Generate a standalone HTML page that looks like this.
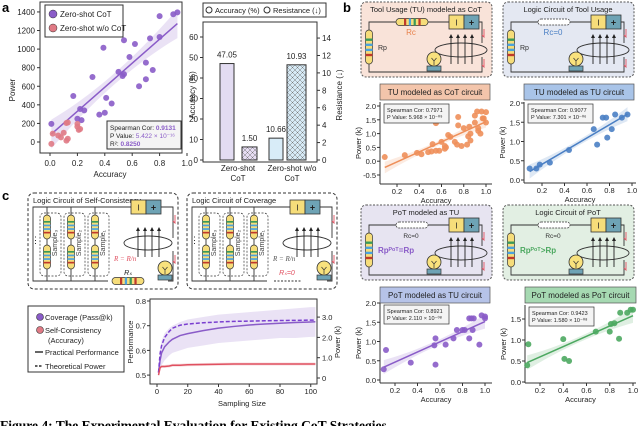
<!DOCTYPE html>
<html><head><meta charset="utf-8">
<style>
html,body{margin:0;padding:0;background:#fff;}
svg{display:block;font-family:"Liberation Sans",sans-serif;}
</style></head>
<body>
<svg id="fig" width="640" height="426" viewBox="0 0 640 426" xmlns="http://www.w3.org/2000/svg"></svg>
<script>
// ---------- DATA ----------
const aCotAcc = [0.01,0.17,0.20,0.22,0.23,0.25,0.31,0.36,0.39,0.40,0.41,0.45,0.50,0.53,0.54,0.54,0.58,0.62,0.65,0.70,0.70,0.73,0.75,0.80,0.80,0.90,0.93];
const aCotPow = [195,495,250,355,235,340,700,295,1015,315,475,415,755,710,1095,730,915,1055,600,855,675,1115,775,1355,1130,1375,1395];
const aNoAcc = [0.01,0.02,0.06,0.08,0.10,0.12,0.13,0.12,0.13,0.20,0.20,0.21,0.22];
const aNoPow = [-20,90,70,50,100,15,35,205,210,195,165,130,140];
const aXTicks = [0,0.2,0.4,0.6,0.8,1.0];
const aYTicks = [0,200,400,600,800,1000,1200,1400];

const barCats = ["Zero-shot CoT","Zero-shot w/o CoT"];
const barAcc = [47.05,10.66];
const barRes = [1.50,10.93];
const barAccTicks = [0,10,20,30,40,50,60];
const barResTicks = [0,2,4,6,8,10,12,14];

const b1Acc = [0.09,0.27,0.38,0.42,0.48,0.51,0.52,0.55,0.55,0.58,0.60,0.63,0.63,0.64,0.66,0.68,0.72,0.74,0.75,0.75,0.78,0.80,0.83,0.84,0.85,0.86,0.86,0.90,0.90,0.92,0.93,0.93,0.95,0.97,0.98,1.00,1.00,0.96];
const b1Pow = [0.15,0.22,0.30,0.25,0.33,0.35,0.62,0.38,1.38,0.38,0.70,0.55,0.45,0.50,0.95,0.88,0.70,0.60,1.60,1.30,0.55,1.20,0.60,0.90,1.25,0.75,1.00,1.40,1.65,1.80,1.10,1.20,1.00,1.55,1.55,1.78,1.40,1.80];
const b2Acc = [0.09,0.15,0.18,0.27,0.44,0.66,0.69,0.74,0.77,0.78,0.82,0.85,0.91,0.96];
const b2Pow = [0.30,0.30,0.40,0.45,0.78,1.32,0.92,1.62,1.62,1.10,1.32,1.70,1.62,1.70];
const b3Acc = [0.10,0.12,0.34,0.55,0.56,0.56,0.65,0.72,0.75,0.80,0.82,0.86,0.86,0.88,0.90,0.89,0.95,0.97,1.00,1.00];
const b3Pow = [0.28,0.78,0.45,0.90,1.08,0.40,0.92,1.08,1.30,1.30,1.30,1.60,1.08,1.60,1.60,1.30,0.92,1.68,1.65,1.60];
const b4Acc = [0.09,0.10,0.40,0.41,0.45,0.68,0.80,0.81,0.84,0.88,0.89,0.95,0.98,1.00];
const b4Pow = [0.40,0.90,1.02,0.55,0.50,1.20,1.20,1.38,1.40,1.03,1.65,1.65,1.72,1.72];

const cSizes = [1,2,3,5,8,10,15,20,30,40,50,60,70,80,90,100,103];
const cCovPerf = [0.51,0.56,0.59,0.615,0.635,0.645,0.66,0.668,0.68,0.69,0.697,0.703,0.707,0.71,0.713,0.715,0.716];
const cCovLo = [0.505,0.52,0.54,0.56,0.58,0.59,0.60,0.61,0.62,0.63,0.635,0.64,0.645,0.65,0.65,0.655,0.655];
const cCovHi = [0.52,0.60,0.64,0.67,0.69,0.70,0.715,0.725,0.735,0.745,0.75,0.755,0.76,0.765,0.77,0.775,0.775];
const cCovPower = [0.27,1.2,1.6,2.0,2.3,2.45,2.6,2.66,2.72,2.76,2.79,2.80,2.82,2.83,2.84,2.85,2.85];
const cScPerf = [0.50,0.53,0.535,0.535,0.537,0.54,0.54,0.542,0.543,0.544,0.545,0.545,0.545,0.545,0.545,0.545,0.545];
const cXTicks = [0,20,40,60,80,100];
const cYTicks = [0.5,0.6,0.7,0.8];
const cRTicks = [0,1.0,2.0,3.0];

// ---------- HELPERS ----------
const NS = "http://www.w3.org/2000/svg";
const svg = document.getElementById("fig");
function mk(tag, attrs, name, parent){
  const el = document.createElementNS(NS, tag);
  for (const k in attrs) el.setAttribute(k, attrs[k]);
  
  
  (parent || svg).appendChild(el);
  return el;
}
function txt(x,y,s,size,name,extra){
  const a = Object.assign({x:x,y:y,'font-size':size,fill:'#222'}, extra||{});
  const t = mk('text', a, name);
  t.textContent = s;
  return t;
}
function fit(xs, ys){
  const n=xs.length; let mx=0,my=0; for(let i=0;i<n;i++){mx+=xs[i];my+=ys[i];} mx/=n; my/=n;
  let sxy=0,sxx=0; for(let i=0;i<n;i++){sxy+=(xs[i]-mx)*(ys[i]-my);sxx+=(xs[i]-mx)**2;}
  const b=sxy/sxx; return {b:b,a:my-b*mx};
}
function regBand(xs, ys, sx, sy, color, width, name){
  const f = fit(xs, ys);
  const x0 = Math.min(...xs), x1 = Math.max(...xs);
  const span = (Math.max(...ys)-Math.min(...ys));
  const w0 = span*0.13, wm = span*0.05;
  const mid=(x0+x1)/2;
  let up=[], dn=[];
  for(let k=0;k<=20;k++){
    const x = x0+(x1-x0)*k/20;
    const w = wm + (w0-wm)*Math.pow(Math.abs(x-mid)/((x1-x0)/2),2);
    const y = f.a+f.b*x;
    up.push(sx(x)+','+sy(y+w)); dn.unshift(sx(x)+','+sy(y-w));
  }
  mk('polygon',{points:up.concat(dn).join(' '),fill:color,'fill-opacity':0.18},name+'-confidence-band');
  mk('line',{x1:sx(x0),y1:sy(f.a+f.b*x0),x2:sx(x1),y2:sy(f.a+f.b*x1),stroke:color,'stroke-width':width},name+'-regression-line');
}
function points(xs, ys, sx, sy, color, r, name){
  for(let i=0;i<xs.length;i++){
    mk('circle',{cx:sx(xs[i]),cy:sy(ys[i]),r:r,fill:color,'fill-opacity':0.9},name+'-point');
  }
}

// ---------- PANEL A SCATTER ----------
txt(2,12,'a',13,'panel-a-label',{'font-weight':'bold',fill:'#000'});
{
  const sx=v=>50+v*137, sy=v=>142-v*0.0929;
  mk('rect',{x:40,y:2,width:142,height:151,fill:'none',stroke:'#333','stroke-width':1},'scatter-a-frame');
  aXTicks.forEach(t=>{ mk('line',{x1:sx(t),y1:153,x2:sx(t),y2:156,stroke:'#333'},'x-tick');
    txt(sx(t),166,t.toFixed(1),8,'x-tick-label',{'text-anchor':'middle'}); });
  aYTicks.forEach(t=>{ mk('line',{x1:37,y1:sy(t),x2:40,y2:sy(t),stroke:'#333'},'y-tick');
    txt(35,sy(t)+3,String(t),8,'y-tick-label',{'text-anchor':'end'}); });
  txt(110,177,'Accuracy',8,'x-axis-title',{'text-anchor':'middle'});
  txt(0,0,'Power',8,'y-axis-title',{'text-anchor':'middle',transform:'translate(15,90) rotate(-90)'});
  regBand(aCotAcc,aCotPow,sx,sy,'#8a5cc8',1.5,'cot');
  points(aCotAcc,aCotPow,sx,sy,'#8a5cc8',3,'cot');
  points(aNoAcc,aNoPow,sx,sy,'#e07a85',3,'no-cot');
  mk('rect',{x:45,y:5,width:78,height:32,fill:'#fff',stroke:'#333'},'legend-box');
  mk('circle',{cx:53,cy:14,r:4,fill:'#8a5cc8',stroke:'#333','stroke-width':0.5},'legend-marker-cot');
  txt(60,17,'Zero-shot CoT',8,'legend-entry-cot');
  mk('circle',{cx:53,cy:28,r:4,fill:'#e07a85',stroke:'#333','stroke-width':0.5},'legend-marker-no-cot');
  txt(60,31,'Zero-shot w/o CoT',8,'legend-entry-no-cot');
  mk('rect',{x:107,y:121,width:74,height:28,fill:'#f4f4f4',stroke:'#333'},'stats-box');
  const s1=txt(110,130,'Spearman Cor: ',6.5,'stats-spearman'); 
  const t1=document.createElementNS(NS,'tspan'); t1.setAttribute('fill','#8a5cc8'); t1.setAttribute('font-weight','bold'); t1.textContent='0.9131'; s1.appendChild(t1);
  const s2=txt(110,138,'P Value: ',6.5,'stats-pvalue');
  const t2=document.createElementNS(NS,'tspan'); t2.setAttribute('fill','#8a5cc8'); t2.textContent='5.422 × 10⁻¹⁶'; s2.appendChild(t2);
  const s3=txt(110,146,'R²: ',6.5,'stats-r2');
  const t3=document.createElementNS(NS,'tspan'); t3.setAttribute('fill','#8a5cc8'); t3.setAttribute('font-weight','bold'); t3.textContent='0.8250'; s3.appendChild(t3);
}

// ---------- PANEL A BARS ----------
{
  const defs = mk('defs',{},'pattern-defs');
  const p1 = mk('pattern',{id:'hatchP',width:5,height:5,patternUnits:'userSpaceOnUse'},'hatch-purple',defs);
  mk('rect',{width:5,height:5,fill:'#e6dcf3'},'hatch-bg',p1);
  mk('path',{d:'M0,0 L5,5 M5,0 L0,5',stroke:'#777','stroke-width':0.5},'hatch-lines',p1);
  const p2 = mk('pattern',{id:'hatchB',width:5,height:5,patternUnits:'userSpaceOnUse'},'hatch-blue',defs);
  mk('rect',{width:5,height:5,fill:'#d6eaf6'},'hatch-bg',p2);
  mk('path',{d:'M0,0 L5,5 M5,0 L0,5',stroke:'#777','stroke-width':0.5},'hatch-lines',p2);
  const sl=v=>160-v*2.05, sr=v=>160-v*8.71;
  mk('rect',{x:203,y:22,width:114,height:140,fill:'none',stroke:'#333'},'bar-frame');
  barAccTicks.forEach(t=>{ mk('line',{x1:200,y1:sl(t),x2:203,y2:sl(t),stroke:'#333'},'left-tick');
    txt(198,sl(t)+3,String(t),8,'left-tick-label',{'text-anchor':'end'}); });
  barResTicks.forEach(t=>{ mk('line',{x1:317,y1:sr(t),x2:320,y2:sr(t),stroke:'#333'},'right-tick');
    txt(322,sr(t)+3,String(t),8,'right-tick-label'); });
  txt(0,0,'Accuracy (%)',8,'left-axis-title',{'text-anchor':'middle',transform:'translate(195,95) rotate(-90)'});
  txt(0,0,'Resistance (↓)',8,'right-axis-title',{'text-anchor':'middle',transform:'translate(342,95) rotate(-90)'});
  const accX=[220,269], resX=[242,287], resW=[15,19], accCol=['#e3dcf2','#d8ecf8'], hatch=['url(#hatchP)','url(#hatchB)'];
  for(let i=0;i<barCats.length;i++){
    mk('rect',{x:accX[i],y:sl(barAcc[i]),width:14,height:160-sl(barAcc[i]),fill:accCol[i],stroke:'#333'},'bar-accuracy');
    txt(accX[i]+7,sl(barAcc[i])-6,barAcc[i].toFixed(2),8,'bar-accuracy-value',{'text-anchor':'middle'});
    mk('rect',{x:resX[i],y:sr(barRes[i]),width:resW[i],height:160-sr(barRes[i]),fill:hatch[i],stroke:'#333'},'bar-resistance');
    txt(resX[i]+resW[i]/2,sr(barRes[i])-6,barRes[i].toFixed(2),8,'bar-resistance-value',{'text-anchor':'middle'});
  }
  txt(238,171,'Zero-shot',8,'category-label',{'text-anchor':'middle'});
  txt(238,181,'CoT',8,'category-label',{'text-anchor':'middle'});
  txt(292,171,'Zero-shot w/o',8,'category-label',{'text-anchor':'middle'});
  txt(292,181,'CoT',8,'category-label',{'text-anchor':'middle'});
  mk('rect',{x:203,y:3,width:123,height:14,fill:'#fff',stroke:'#333'},'bar-legend-box');
  mk('circle',{cx:209,cy:10,r:3,fill:'#fff',stroke:'#333'},'legend-marker-accuracy');
  txt(215,13,'Accuracy (%)',7.5,'legend-entry-accuracy');
  mk('circle',{cx:267,cy:10,r:3,fill:'#fff',stroke:'#333'},'legend-marker-resistance');
  txt(273,13,'Resistance (↓)',7.5,'legend-entry-resistance');
}

// ---------- CIRCUIT COMPONENTS ----------
function resistorH(x,y,w){
  mk('rect',{x:x,y:y-3.5,width:w,height:7,rx:3.5,fill:'#f6dd7a',stroke:'#333','stroke-width':0.7},'resistor');
  const c=['#c0392b','#4aa3df','#3a9a5a','#c0392b'];
  for(let i=0;i<4;i++) mk('rect',{x:x+w*0.25+i*w*0.15,y:y-3.5,width:w*0.07,height:7,fill:c[i]},'resistor-band');
}
function resistorV(x,y,h){
  mk('rect',{x:x-3.5,y:y,width:7,height:h,rx:3.5,fill:'#f6dd7a',stroke:'#333','stroke-width':0.7},'resistor');
  const c=['#3a9a5a','#4aa3df','#4aa3df','#c0392b'];
  for(let i=0;i<4;i++) mk('rect',{x:x-3.5,y:y+h*0.25+i*h*0.15,width:7,height:h*0.07,fill:c[i]},'resistor-band');
}
function wireZero(x,y,w){
  mk('rect',{x:x,y:y-3,width:w,height:6,rx:3,fill:'#fff',stroke:'#333','stroke-width':0.7,'stroke-dasharray':'2,1'},'zero-resistor');
}
function battery(x,y){
  mk('rect',{x:x,y:y,width:15,height:14,fill:'#f6dd7a',stroke:'#333','stroke-width':0.8},'battery-neg');
  mk('rect',{x:x+15,y:y,width:15,height:14,fill:'#6ea3b5',stroke:'#333','stroke-width':0.8},'battery-pos');
  txt(x+7.5,y+10.5,'I',8,'battery-minus',{'text-anchor':'middle'});
  txt(x+22.5,y+10.5,'+',9,'battery-plus',{'text-anchor':'middle','font-weight':'bold'});
}
function bulb(x,y){
  mk('circle',{cx:x,cy:y,r:7,fill:'#f9e27d',stroke:'#333','stroke-width':0.8},'bulb');
  mk('path',{d:`M${x-2.5},${y-1} L${x},${y+2} L${x+2.5},${y-1} M${x},${y+2} L${x},${y+6}`,stroke:'#333',fill:'none','stroke-width':0.7},'bulb-filament');
  mk('rect',{x:x-7,y:y+7,width:14,height:5,fill:'#6ea3b5',stroke:'#333','stroke-width':0.7},'bulb-base');
}
function coil(cx,cy,rx){
  mk('ellipse',{cx:cx,cy:cy,rx:rx,ry:7,fill:'none',stroke:'#333','stroke-width':0.9},'coil');
  for(let i=0;i<4;i++){
    const x=cx-10+i*7;
    mk('line',{x1:x,y1:cy+14,x2:x,y2:cy-14,stroke:'#222','stroke-width':0.9},'field-arrow');
    mk('path',{d:`M${x-2},${cy-12} L${x},${cy-16} L${x+2},${cy-12} Z`,fill:'#222'},'field-arrow-head');
  }
}
function checkMark(x,y){
  mk('path',{d:`M${x},${y} L${x},${y+8} L${x-2},${y+6}`,stroke:'#e05060',fill:'none','stroke-width':0.9},'current-mark');
}
function circuitB(ox,oy,bg,title,zero,rcLabel,rcCol,rpLabel,rpCol,name){
  mk('rect',{x:ox,y:oy,width:131,height:75,rx:5,fill:bg,stroke:'#555','stroke-dasharray':'2,1.5'},name+'-box');
  txt(ox+65,oy+10,title,7.5,name+'-title',{'text-anchor':'middle'});
  mk('path',{d:`M${ox+8},${oy+28} L${ox+8},${oy+20} L${ox+121},${oy+20} L${ox+121},${oy+41} M${ox+121},${oy+55} L${ox+121},${oy+70} L${ox+8},${oy+70} L${ox+8},${oy+62}`,fill:'none',stroke:'#333','stroke-width':0.9},name+'-wire');
  if(zero) wireZero(ox+35,oy+20,32); else resistorH(ox+35,oy+20,32);
  resistorV(ox+8,oy+28,34);
  battery(ox+88,oy+13);
  coil(ox+100,oy+48,26);
  bulb(ox+73,oy+57);
  checkMark(ox+123,oy+27); checkMark(ox+123,oy+57);
  txt(ox+50,oy+33,rcLabel,rcCol==='#333'?6.5:8,name+'-rc-label',{'text-anchor':'middle',fill:rcCol});
  txt(ox+17,oy+48,rpLabel,rpCol==='#333'?7:8,name+'-rp-label',{fill:rpCol,'font-weight':rpCol==='#333'?'normal':'bold'});
}
txt(343,12,'b',13,'panel-b-label',{'font-weight':'bold',fill:'#000'});
circuitB(361,2,'#f9e3d9','Tool Usage (TU) modeled as CoT',false,'Rc','#e8804a','Rp','#333','circuit-tu-cot');
circuitB(503,2,'#e4e8f2','Logic Circuit of Tool Usage',true,'Rc=0','#4a7fc4','Rp','#333','circuit-tu');
circuitB(361,205,'#e7e4f1','PoT modeled as TU',true,'Rc=0','#333','Rp\u1D3E\u1D52\u1D40=Rp','#8a5cc8','circuit-pot-tu');
circuitB(503,205,'#e2efe3','Logic Circuit of PoT',true,'Rc=0','#333','Rp\u1D3E\u1D52\u1D40>Rp','#4ca860','circuit-pot');

// ---------- PANEL B SCATTERS ----------
function bPlot(o){
  mk('rect',{x:o.hx,y:o.hy,width:o.hw,height:16,fill:o.hcol,stroke:'#555','stroke-width':0.7},o.name+'-header');
  txt(o.hx+o.hw/2,o.hy+11,o.title,8,o.name+'-title',{'text-anchor':'middle'});
  mk('line',{x1:o.ax,y1:o.top,x2:o.ax,y2:o.by,stroke:'#333'},o.name+'-y-axis');
  mk('line',{x1:o.ax,y1:o.by,x2:o.right,y2:o.by,stroke:'#333'},o.name+'-x-axis');
  o.yt.forEach(t=>{ mk('line',{x1:o.ax-3,y1:o.sy(t),x2:o.ax,y2:o.sy(t),stroke:'#333'},'y-tick');
    txt(o.ax-4,o.sy(t)+3,t.toFixed(1),7.5,'y-tick-label',{'text-anchor':'end'}); });
  [0.2,0.4,0.6,0.8,1.0].forEach(t=>{ mk('line',{x1:o.sx(t),y1:o.by,x2:o.sx(t),y2:o.by+3,stroke:'#333'},'x-tick');
    txt(o.sx(t),o.by+10,t.toFixed(1),7.5,'x-tick-label',{'text-anchor':'middle'}); });
  txt((o.ax+o.right)/2,o.by+19,'Accuracy',7.5,o.name+'-x-title',{'text-anchor':'middle'});
  txt(0,0,'Power (k)',7.5,o.name+'-y-title',{'text-anchor':'middle',transform:`translate(${o.ax-19},${(o.top+o.by)/2}) rotate(-90)`});
  regBand(o.xs,o.ys,o.sx,o.sy,o.col,1.5,o.name);
  points(o.xs,o.ys,o.sx,o.sy,o.col,3,o.name);
  mk('rect',{x:o.ax+4,y:o.top+2,width:65,height:19,fill:'#f4f4f4',stroke:'#333','stroke-width':0.7},o.name+'-stats-box');
  txt(o.ax+7,o.top+10,'Spearman Cor:  '+o.cor,5.5,o.name+'-stats-cor');
  txt(o.ax+7,o.top+17,'P Value:  '+o.p,5.5,o.name+'-stats-p');
}
bPlot({name:'tu-cot',hx:380,hy:84,hw:110,hcol:'#f3c5ab',title:'TU modeled as CoT circuit',ax:380,top:102,by:184,right:492,
  sx:v=>374.75+111.25*v,sy:v=>161.2-27.6*v,yt:[-0.5,0,0.5,1.0,1.5,2.0],xs:b1Acc,ys:b1Pow,col:'#ee8f5a',cor:'0.7971',p:'5.968 × 10⁻⁰⁹'});
bPlot({name:'tu-tu',hx:524,hy:84,hw:110,hcol:'#a9c4e8',title:'TU modeled as TU circuit',ax:524,top:102,by:183,right:636,
  sx:v=>519.5+112.5*v,sy:v=>180-38.5*v,yt:[0,0.5,1.0,1.5,2.0],xs:b2Acc,ys:b2Pow,col:'#4a7fc4',cor:'0.9077',p:'7.301 × 10⁻⁰⁶'});
bPlot({name:'pot-tu',hx:380,hy:287,hw:110,hcol:'#b6c3e8',title:'PoT modeled as TU circuit',ax:380,top:303,by:383,right:492,
  sx:v=>372.5+112.5*v,sy:v=>380-38.5*v,yt:[0,0.5,1.0,1.5,2.0],xs:b3Acc,ys:b3Pow,col:'#8a5cc8',cor:'0.8921',p:'2.110 × 10⁻⁰⁸'});
bPlot({name:'pot-pot',hx:525,hy:287,hw:111,hcol:'#a6d9b2',title:'PoT modeled as PoT circuit',ax:525,top:305,by:383,right:636,
  sx:v=>516.75+116.25*v,sy:v=>382-42*v,yt:[0,0.5,1.0,1.5],xs:b4Acc,ys:b4Pow,col:'#4ca860',cor:'0.9423',p:'1.580 × 10⁻⁰⁸'});

// ---------- PANEL C CIRCUITS ----------
txt(2,200,'c',13,'panel-c-label',{'font-weight':'bold',fill:'#000'});
function circuitC(ox,title,rsZero,rLabel,name){
  const oy=193;
  mk('rect',{x:ox,y:oy,width:150,height:96,rx:6,fill:'#fff',stroke:'#333','stroke-dasharray':'3,2'},name+'-box');
  txt(ox+5,oy+10,title,7.5,name+'-title');
  mk('path',{d:`M${ox+103},${oy+14} L${ox+5},${oy+14} L${ox+5},${oy+88} L${ox+80},${oy+88} M${ox+133},${oy+14} L${ox+145},${oy+14} L${ox+145},${oy+45} M${ox+145},${oy+58} L${ox+145},${oy+88} L${ox+140},${oy+88}`,fill:'none',stroke:'#333','stroke-width':0.9},name+'-wire');
  const gx=[ox+12,ox+36,ox+60];
  const labs=['Sample₃','Sample₂','Sample₁'];
  for(let i=0;i<3;i++){
    mk('rect',{x:gx[i],y:oy+20,width:21,height:63,rx:4,fill:'none',stroke:'#333','stroke-dasharray':'2,1.5','stroke-width':0.7},name+'-sample-group');
    mk('line',{x1:gx[i]+7,y1:oy+14,x2:gx[i]+7,y2:oy+88,stroke:'#333','stroke-width':0.9},name+'-branch-wire');
    resistorV(gx[i]+7,oy+22,24); resistorV(gx[i]+7,oy+52,24);
    txt(0,0,labs[i],7,name+'-sample-label',{'text-anchor':'middle',transform:`translate(${gx[i]+17},${oy+50}) rotate(-90)`,fill:'#444'});
  }
  txt(ox+3,oy+50,'⋮',9,name+'-ellipsis');
  battery(ox+103,oy+7);
  coil(ox+120,oy+50,24);
  checkMark(ox+147,oy+22); checkMark(ox+147,oy+62);
  bulb(ox+137,oy+75);
  if(rsZero){
    mk('path',{d:`M${ox+87},${oy+88} L${ox+115},${oy+88}`,stroke:'#333','stroke-dasharray':'2,1.5'},name+'-rs-zero');
    txt(ox+100,oy+82,'Rₛ=0',7,name+'-rs-label',{'text-anchor':'middle',fill:'#e05060','font-style':'italic'});
  } else {
    resistorH(ox+84,oy+88,32);
    txt(ox+100,oy+82,'Rₛ',7,name+'-rs-label',{'text-anchor':'middle','font-style':'italic'});
  }
  txt(ox+86,oy+68,rLabel,7,name+'-r-label',{fill:rsZero?'#555':'#e05060','font-style':'italic','font-family':'"Liberation Serif",serif'});
}
circuitC(28,'Logic Circuit of Self-Consistency',false,'R = R/n','circuit-self-consistency');
circuitC(187,'Logic Circuit of Coverage',true,'R = R/n','circuit-coverage');

// ---------- PANEL C LINE CHART ----------
{
  const sx=v=>157+v*1.5375, sy=v=>301+(0.8-v)*247, sr=v=>378-v*20.3;
  mk('rect',{x:150,y:299,width:167,height:85,fill:'none',stroke:'#333'},'line-chart-frame');
  let up=[],dn=[];
  for(let i=0;i<cSizes.length;i++){ up.push(sx(cSizes[i])+','+sy(cCovHi[i])); dn.unshift(sx(cSizes[i])+','+sy(cCovLo[i])); }
  mk('polygon',{points:up.concat(dn).join(' '),fill:'#8a5cc8','fill-opacity':0.18},'coverage-band');
  let up2=[],dn2=[];
  for(let i=0;i<cSizes.length;i++){ up2.push(sx(cSizes[i])+','+sy(cScPerf[i]+0.006)); dn2.unshift(sx(cSizes[i])+','+sy(cScPerf[i]-0.006)); }
  mk('polygon',{points:up2.concat(dn2).join(' '),fill:'#e07a85','fill-opacity':0.25},'sc-band');
  const line=(ys,f)=>cSizes.map((x,i)=>(i?'L':'M')+sx(x)+','+f(ys[i])).join(' ');
  mk('path',{d:line(cCovPerf,sy),fill:'none',stroke:'#8a5cc8','stroke-width':1.5},'coverage-performance-line');
  mk('path',{d:line(cCovPower,sr),fill:'none',stroke:'#7a3fd0','stroke-width':1.5,'stroke-dasharray':'4,2'},'coverage-power-line');
  mk('path',{d:line(cScPerf,sy),fill:'none',stroke:'#e05060','stroke-width':1.5},'sc-performance-line');
  cXTicks.forEach(t=>{ mk('line',{x1:sx(t),y1:384,x2:sx(t),y2:387,stroke:'#333'},'x-tick');
    txt(sx(t),394,String(t),7.5,'x-tick-label',{'text-anchor':'middle'}); });
  cYTicks.forEach(t=>{ mk('line',{x1:147,y1:sy(t),x2:150,y2:sy(t),stroke:'#333'},'y-tick');
    txt(146,sy(t)+3,t.toFixed(1),7.5,'y-tick-label',{'text-anchor':'end'}); });
  cRTicks.forEach(t=>{ mk('line',{x1:317,y1:sr(t),x2:320,y2:sr(t),stroke:'#333'},'right-tick');
    txt(322,sr(t)+3,t===0?'0':t.toFixed(1),7.5,'right-tick-label'); });
  txt(242,406,'Sampling Size',7.5,'x-axis-title',{'text-anchor':'middle'});
  txt(0,0,'Performance',7.5,'y-axis-title',{'text-anchor':'middle',transform:'translate(133,342) rotate(-90)'});
  txt(0,0,'Power (k)',7.5,'right-axis-title',{'text-anchor':'middle',transform:'translate(340,342) rotate(-90)'});
  mk('rect',{x:28,y:306,width:96,height:66,fill:'#fff',stroke:'#333'},'c-legend-box');
  mk('circle',{cx:40,cy:317,r:3.5,fill:'#8a5cc8',stroke:'#333','stroke-width':0.6},'legend-marker-coverage');
  txt(45,320,'Coverage (Pass@k)',7.5,'legend-entry-coverage');
  mk('circle',{cx:40,cy:330,r:3.5,fill:'#e07a85',stroke:'#333','stroke-width':0.6},'legend-marker-sc');
  txt(45,333,'Self-Consistency',7.5,'legend-entry-sc');
  txt(48,343,'(Accuracy)',7.5,'legend-entry-sc-sub');
  mk('line',{x1:35,y1:352,x2:43,y2:352,stroke:'#000','stroke-width':1.2},'legend-marker-practical');
  txt(45,355,'Practical Performance',7.5,'legend-entry-practical');
  mk('line',{x1:35,y1:366,x2:43,y2:366,stroke:'#000','stroke-width':1.2,'stroke-dasharray':'2.5,1.5'},'legend-marker-theoretical');
  txt(45,369,'Theoretical Power',7.5,'legend-entry-theoretical');
}

// ---------- CAPTION ----------
txt(0,430,'Figure 4: The Experimental Evaluation for Existing CoT Strategies',13.5,'figure-caption',{'font-family':'"Liberation Serif",serif','font-weight':'bold',fill:'#000'});
</script>
</body></html>
